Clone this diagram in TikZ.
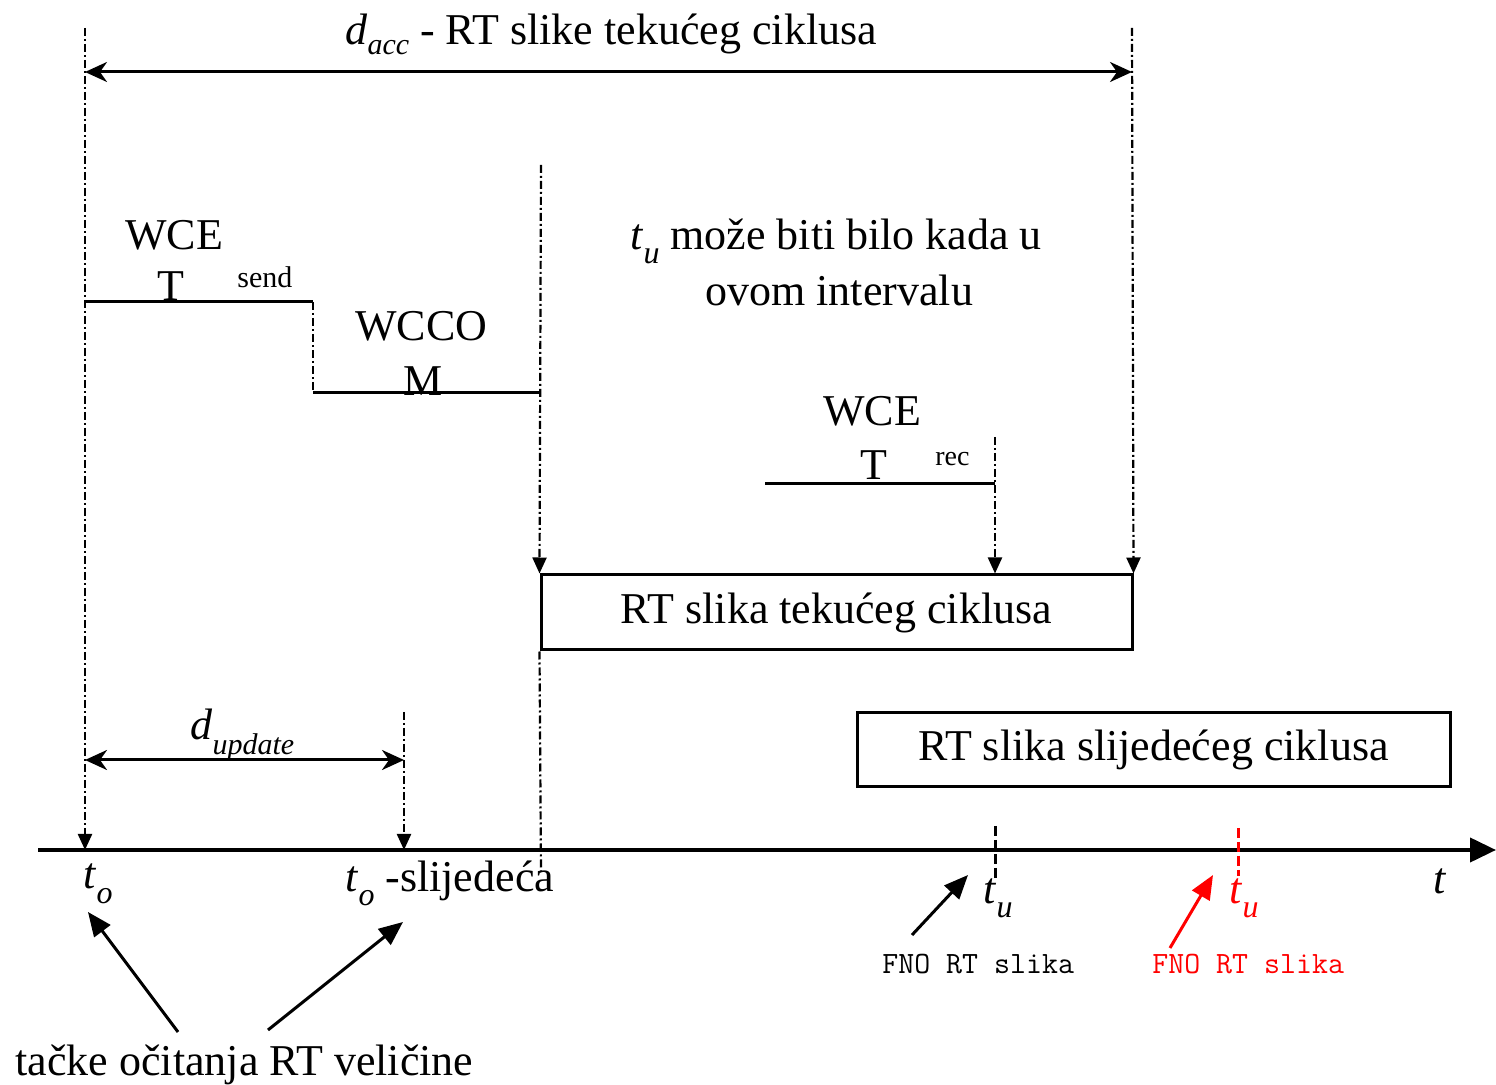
\documentclass[tikz,border=0pt]{standalone}
\usepackage{fontspec}
\setmainfont{Liberation Serif}
\usetikzlibrary{arrows.meta}
\newcommand\isb[4]{\textit{#1}\raisebox{#4}{\fontsize{#3}{#3}\selectfont\textit{#2}}}
\definecolor{fnored}{RGB}{255,0,0}
\begin{document}
\begin{tikzpicture}[x=0.5pt,y=-0.5pt,
  dd/.style={line width=1.1pt, dash pattern=on 4pt off 1.5pt on 1pt off 1.5pt},
  ln/.style={line width=1.5pt},
  downarr/.style={-{Triangle[length=8pt,width=7pt]}},
  dimarr/.style={line width=1.5pt,{Stealth[length=11pt,width=10pt,inset=3.5pt]}-{Stealth[length=11pt,width=10pt,inset=3.5pt]}},
  ptr/.style={line width=1.5pt,-{Triangle[length=12pt,width=10pt]}},
  txt/.style={inner sep=0pt, anchor=base west, font=\fontsize{22}{26}\selectfont},
  smalltxt/.style={inner sep=0pt, anchor=base west, font=\fontsize{15}{18}\selectfont},
  monotxt/.style={inner sep=0pt, anchor=base west, font=\fontsize{15.5}{18}\selectfont\ttfamily},
  boxnode/.style={draw, line width=1.5pt, inner sep=0pt, font=\fontsize{22}{26}\selectfont},
  tumark/.style={line width=1.5pt, dash pattern=on 5pt off 2pt}
]
\useasboundingbox (0,0) rectangle (1496,1085);

% coordinates
\coordinate (a0) at (85,28);
\coordinate (a0b) at (85,850);
\coordinate (a1) at (1132,28);
\coordinate (a2) at (541,165);
\coordinate (a2b) at (541,872);
\coordinate (a3) at (995,437);
\coordinate (a4) at (404,712);
\coordinate (a4b) at (404,850);
\coordinate (dA0) at (85,72);
\coordinate (dA1) at (1132,72);
\coordinate (dU0) at (85,760);
\coordinate (dU1) at (404,760);
\coordinate (s0) at (85,302);
\coordinate (s1) at (313,302);
\coordinate (s2) at (313,393);
\coordinate (s3) at (541,393);
\coordinate (r0) at (765,484);
\coordinate (r1) at (995,484);
\coordinate (ax0) at (38,850);
\coordinate (ax1) at (1496,850);
\coordinate (tu0) at (995,826);
\coordinate (tu1) at (995,878);
\coordinate (tr0) at (1238,828);
\coordinate (tr1) at (1238,876);

% boxes
\node[boxnode, minimum width=295.5pt, minimum height=37.5pt] (box1) at (836.5,612.5) {RT slika tekućeg ciklusa};
\node[boxnode, minimum width=296.5pt, minimum height=37pt] (box2) at (1153.5,750) {RT slika slijedećeg ciklusa};

% dash-dot verticals
\draw[dd,downarr] (a0) -- (a0b);
\draw[dd,downarr] (a1) -- (box1.north east);
\draw[dd,downarr] (a2) -- (box1.north west);
\draw[dd] (box1.south west) -- (a2b);
\draw[dd,downarr] (a3) -- (a3 |- box1.north);
\draw[dd,downarr] (a4) -- (a4b);
\draw[dd] (s1) -- (s2);

% step lines
\draw[ln] (s0) -- (s1);
\draw[ln] (s2) -- (s3);
\draw[ln] (r0) -- (r1);

% dimension arrows
\draw[dimarr] (dA0) -- (dA1);
\draw[dimarr] (dU0) -- (dU1);

% axis
\draw[line width=2pt,-{Triangle[length=13pt,width=12pt]}] (ax0) -- (ax1);
\draw[tumark] (tu0) -- (tu1);
\draw[tumark,fnored] (tr0) -- (tr1);

% texts
\node[txt] (title) at (345,45) {\isb{d}{acc}{15pt}{-5pt} - RT slike tekućeg ciklusa};
\node[txt] (wce1) at (125,250) {WCE};
\node[txt] (t1) at (157,301) {T};
\node[smalltxt] (send) at (237,288) {send};
\node[txt] (wcco) at (355,341) {WCCO};
\node[txt] (m) at (403,396) {M};
\node[txt] (tu1a) at (630,250) {\isb{t}{u}{16pt}{-7pt} može biti bilo kada u};
\node[txt] (tu1b) at (705,306) {ovom intervalu};
\node[txt] (wce2) at (823,426) {WCE};
\node[txt] (t2) at (860,480) {T};
\node[smalltxt,font=\fontsize{14}{16}\selectfont] (rec) at (935,466) {rec};
\node[txt] (dupd) at (190,740) {\isb{d}{update}{15pt}{-7.5pt}};
\node[txt] (to1) at (83,889) {\isb{t}{o}{16pt}{-7pt}};
\node[txt] (to2) at (345,892) {\isb{t}{o}{16pt}{-7pt} -slijedeća};
\node[txt] (tub) at (983,903) {\isb{t}{u}{16pt}{-7pt}};
\node[txt,text=fnored] (tur) at (1229,903) {\isb{t}{u}{16pt}{-7pt}};
\node[txt] (tt) at (1433,893) {\textit{t}};
\node[monotxt] (fno1) at (882,973) {FNO RT slika};
\node[monotxt,text=fnored] (fno2) at (1152,973) {FNO RT slika};
\node[txt] (tacke) at (15,1075) {tačke očitanja RT veličine};

% pointer arrows
\coordinate (p1s) at (178,1032);
\coordinate (p1e) at (88,912);
\coordinate (p2s) at (268,1030);
\coordinate (p2e) at (403,922);
\coordinate (p3s) at (912,935);
\coordinate (p3e) at (968,875);
\coordinate (p4s) at (1170,948);
\coordinate (p4e) at (1213,875);
\draw[ptr] (p1s) -- (p1e);
\draw[ptr] (p2s) -- (p2e);
\draw[ptr] (p3s) -- (p3e);
\draw[ptr,fnored] (p4s) -- (p4e);
\end{tikzpicture}
\end{document}
